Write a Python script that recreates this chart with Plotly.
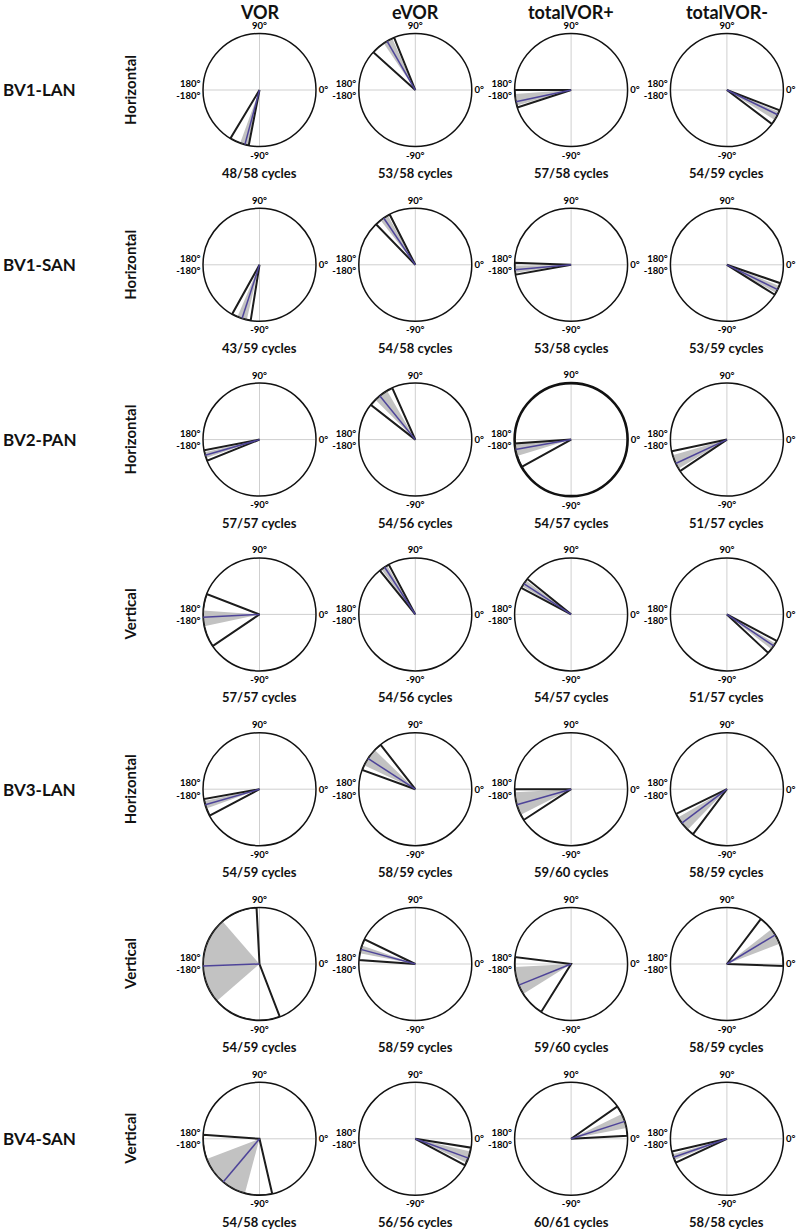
import plotly.graph_objects as go

columns = ["VOR", "eVOR", "totalVOR+", "totalVOR-"]
subjects = ["BV1-LAN", "BV1-SAN", "BV2-PAN", "", "BV3-LAN", "", "BV4-SAN"]
planes = ["Horizontal", "Horizontal", "Horizontal", "Vertical",
          "Horizontal", "Vertical", "Vertical"]

cycles = [
    ["48/58", "53/58", "57/58", "54/59"],
    ["43/59", "54/58", "53/58", "53/59"],
    ["57/57", "54/56", "54/57", "51/57"],
    ["57/57", "54/56", "54/57", "51/57"],
    ["54/59", "58/59", "59/60", "58/59"],
    ["54/59", "58/59", "59/60", "58/59"],
    ["54/58", "56/56", "60/61", "58/58"],
]

# phase range (black wedge), degrees
range_lo = [
    [-121, 112, -180, -37],
    [-119, 117, -182, -32],
    [-169, 114, -176, -168],
    [159, 118, 141, -43],
    [-170, 128, -180, -154],
    [93, 154, 173, -2],
    [176, -28, 3, -167],
]
range_hi = [
    [-101, 138, -162, -21],
    [-99, 134, -170, -19],
    [-158, 142, -151, -146],
    [214, 129, 152, -28],
    [-152, 160, -147, -127],
    [291, 176, 238, 53],
    [283, -9, 35, -155],
]
# confidence interval (grey wedge)
ci_lo = [
    [-110, 114, -176, -32],
    [-113, 119, -179, -30],
    [-167, 120, -176, -164],
    [176, 120, 143, -38],
    [-168, 136, -177, -150],
    [131, 161, 183, 21],
    [201, -25, 11, -164],
]
ci_hi = [
    [-102, 124, -164, -23],
    [-103, 128, -172, -22],
    [-161, 135, -163, -149],
    [192, 127, 150, -31],
    [-160, 155, -153, -134],
    [221, 169, 212, 38],
    [255, -13, 26, -158],
]
# mean phase (blue line)
mean_phase = [
    [-105, 120, -168, -26],
    [-108, 124, -175, -26],
    [-164, 129, -170, -155],
    [183, 123, 147, -34],
    [-164, 147, -164, -143],
    [182, 165, 202, 31],
    [230, -20, 18, -161],
]

W, H = 797, 1232
R = 56.5
col_x = [259.5, 415.3, 571.1, 726.9]
row_y = [90 + 174.8 * i for i in range(7)]

fig = go.Figure()
layout = {}
annotations = []

for i in range(7):
    for j in range(4):
        k = i * 4 + j + 1
        name = "polar" if k == 1 else f"polar{k}"
        cx, cy = col_x[j], row_y[i]

        fig.add_trace(go.Barpolar(
            r=[1], theta=[(ci_lo[i][j] + ci_hi[i][j]) / 2],
            width=[ci_hi[i][j] - ci_lo[i][j]],
            marker=dict(color="#c2c2c2", line=dict(width=0)),
            subplot=name, showlegend=False, hoverinfo="skip"))
        fig.add_trace(go.Barpolar(
            r=[1], theta=[(range_lo[i][j] + range_hi[i][j]) / 2],
            width=[range_hi[i][j] - range_lo[i][j]],
            marker=dict(color="rgba(0,0,0,0)", line=dict(color="#1c1c1c", width=2)),
            subplot=name, showlegend=False, hoverinfo="skip"))
        fig.add_trace(go.Scatterpolar(
            r=[0, 1], theta=[mean_phase[i][j]] * 2, mode="lines",
            line=dict(color="#4e4499", width=1.5),
            subplot=name, showlegend=False, hoverinfo="skip"))

        layout[name] = dict(
            domain=dict(x=[(cx - R) / W, (cx + R) / W],
                        y=[1 - (cy + R) / H, 1 - (cy - R) / H]),
            bgcolor="white",
            barmode="overlay",
            radialaxis=dict(visible=False, range=[0, 1]),
            angularaxis=dict(
                direction="counterclockwise", rotation=0,
                tickmode="array", tickvals=[0, 90, 180, 270],
                ticktext=["0°", "90°", "180°<br>-180°", "-90°"],
                ticks="", showgrid=True, gridcolor="#cfcfcf", gridwidth=1,
                showline=True, linecolor="#111111",
                linewidth=2.6 if (i == 2 and j == 2) else 1.5,
                layer="below traces",
                tickfont=dict(family="Lato", size=9.5, color="black", weight="bold"),
            ),
        )

        annotations.append(dict(
            x=cx / W, y=1 - (cy + 83) / H, xref="paper", yref="paper",
            text=f"{cycles[i][j]} cycles", showarrow=False,
            font=dict(family="Lato", size=13, color="#111111", weight="bold"),
            xanchor="center", yanchor="middle"))

    if subjects[i]:
        annotations.append(dict(
            x=1 / W, y=1 - row_y[i] / H, xref="paper", yref="paper",
            text=subjects[i], showarrow=False,
            font=dict(family="Lato", size=17, color="#111111", weight="bold"),
            xanchor="left", yanchor="middle"))
    annotations.append(dict(
        x=130 / W, y=1 - row_y[i] / H, xref="paper", yref="paper",
        text=planes[i], showarrow=False, textangle=-90,
        font=dict(family="Lato", size=15, color="#111111", weight="bold"),
        xanchor="center", yanchor="middle"))

for j, c in enumerate(columns):
    annotations.append(dict(
        x=col_x[j] / W, y=1 - 12 / H, xref="paper", yref="paper",
        text=c, showarrow=False,
        font=dict(family="Lato", size=18, color="#111111", weight="bold"),
        xanchor="center", yanchor="middle"))

fig.update_layout(
    **layout,
    width=W, height=H,
    margin=dict(l=0, r=0, t=0, b=0),
    paper_bgcolor="white",
    annotations=annotations,
    showlegend=False,
)

fig.write_html("out.html", config={"displayModeBar": False},
               post_script="document.body.style.margin='0';document.body.style.overflow='hidden';")
